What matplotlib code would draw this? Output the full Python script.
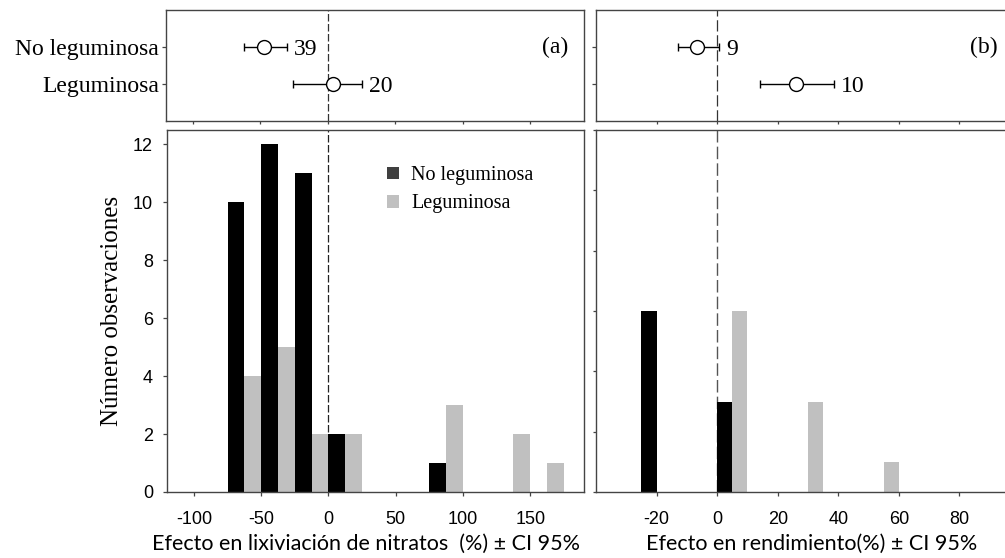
import matplotlib.pyplot as plt
from matplotlib.patches import Patch

plt.rcParams['axes.unicode_minus'] = False

# histogram classes (left edge of each 25 % class)
bins_nit = [-75, -50, -25, 0, 25, 50, 75, 100, 125, 150]
nit_no_leg = [10, 12, 11, 2, 0, 0, 1, 0, 0, 0]
nit_leg = [4, 5, 2, 2, 0, 0, 3, 0, 2, 1]

bins_rend = [-25, 0, 25, 50, 75]
rend_no_leg = [6, 3, 0, 0, 0]
rend_leg = [0, 6, 3, 1, 0]

# mean effect with 95% CI and number of observations
grupos = ['Leguminosa', 'No leguminosa']
fila = [1, 2]
nit_media = [3.7, -47]
nit_lo = [-26, -62]
nit_hi = [25.6, -30.5]
nit_n = [20, 39]
rend_media = [25.9, -6.6]
rend_lo = [14.3, -13]
rend_hi = [38.5, 0.7]
rend_n = [10, 9]

NEGRO = '#000000'
GRIS = '#c0c0c0'
EJE = '#444444'
SERIF = 'Liberation Serif'
SANS = 'Liberation Sans'

W, H = 1005, 558
fig = plt.figure(figsize=(W / 100, H / 100), dpi=100)


def caja(x0, x1, y0, y1):
    return fig.add_axes([x0 / W, 1 - y1 / H, (x1 - x0) / W, (y1 - y0) / H])


ax_a_top = caja(166, 584, 10, 121)
ax_a = caja(167, 584, 130, 492)
ax_b_top = caja(596, 1020, 10, 121)
ax_b = caja(596, 1020, 130, 492)

for ax in (ax_a_top, ax_a, ax_b_top, ax_b):
    for s in ax.spines.values():
        s.set_color(EJE)
        s.set_linewidth(1.0)
    ax.tick_params(colors=EJE, width=0.9, labelcolor='black')

# --- histograms
ax_a.bar(bins_nit, nit_no_leg, width=12.5, align='edge', color=NEGRO, zorder=2)
ax_a.bar([b + 12.5 for b in bins_nit], nit_leg, width=12.5, align='edge', color=GRIS, zorder=2)
ax_a.axvline(0, color='#222222', lw=0.9, dashes=(6, 2), zorder=1)
ax_a.set_xlim(-120, 190)
ax_a.set_ylim(0, 12.5)
ax_a.set_xticks([-100, -50, 0, 50, 100, 150])
ax_a.set_yticks([0, 2, 4, 6, 8, 10, 12])
ax_a.tick_params(axis='x', length=3, pad=11, labelsize=13)
ax_a.tick_params(axis='y', length=3, pad=7, labelsize=13)
for t in ax_a.get_xticklabels() + ax_a.get_yticklabels():
    t.set_fontfamily(SANS)
ax_a.set_ylabel('Número observaciones', fontfamily=SERIF, fontsize=18, labelpad=7)

ax_a.legend(handles=[Patch(facecolor='#404040', label='No leguminosa'),
                     Patch(facecolor=GRIS, label='Leguminosa')],
            loc='upper left', bbox_to_anchor=(0.528, 0.90), frameon=False,
            borderpad=0, borderaxespad=0, handlelength=0.6, handleheight=0.6,
            handletextpad=0.6, labelspacing=0.45,
            prop={'family': SERIF, 'size': 14.5})

ax_b.bar(bins_rend, rend_no_leg, width=5, align='edge', color=NEGRO, zorder=2)
ax_b.bar([b + 5 for b in bins_rend], rend_leg, width=5, align='edge', color=GRIS, zorder=2)
ax_b.axvline(0, color='#555555', lw=1.0, dashes=(9, 3), zorder=1)
ax_b.set_xlim(-40, 100)
ax_b.set_ylim(0, 12)
ax_b.set_xticks([-20, 0, 20, 40, 60, 80])
ax_b.set_yticks([0, 2, 4, 6, 8, 10, 12])
ax_b.set_yticklabels([])
ax_b.tick_params(axis='x', length=3, pad=11, labelsize=13)
ax_b.tick_params(axis='y', length=2.5)
for t in ax_b.get_xticklabels():
    t.set_fontfamily(SANS)

# --- mean effect panels
def efecto(ax, media, lo, hi, n, xlim, ticks, dashes, etiqueta, pos_etiq):
    err = [[m - l for m, l in zip(media, lo)], [h - m for m, h in zip(media, hi)]]
    ax.axvline(0, color='#333333', lw=0.9, dashes=dashes, zorder=1)
    ax.errorbar(media, fila, xerr=err, fmt='o', color='black', ecolor='black',
                elinewidth=1.0, capsize=3, capthick=1.0, ms=10,
                mfc='white', mec='black', mew=1.0, zorder=3)
    for h, y, k in zip(hi, fila, n):
        ax.annotate(str(k), xy=(h, y), xytext=(5, -1.5), textcoords='offset points',
                    va='center', ha='left', fontfamily=SERIF, fontsize=17)
    ax.set_xlim(*xlim)
    ax.set_ylim(0, 3)
    ax.set_xticks(ticks)
    ax.set_xticklabels([])
    ax.set_yticks(fila)
    ax.tick_params(axis='x', length=2.5)
    ax.tick_params(axis='y', length=3, pad=2)
    ax.text(pos_etiq, 0.66, etiqueta, transform=ax.transAxes, ha='center', va='center',
            fontfamily=SERIF, fontsize=17)


efecto(ax_a_top, nit_media, nit_lo, nit_hi, nit_n, (-120, 190),
       [-100, -50, 0, 50, 100, 150], (6, 2), '(a)', 0.93)
ax_a_top.set_yticklabels(grupos, fontfamily=SERIF, fontsize=17)
efecto(ax_b_top, rend_media, rend_lo, rend_hi, rend_n, (-40, 100),
       [-20, 0, 20, 40, 60, 80], (9, 3), '(b)', 0.915)
ax_b_top.set_yticklabels([])

fig.text(365.5 / W, 1 - 550 / H, 'Efecto en lixiviación de nitratos  (%) ± CI 95%',
         ha='center', va='baseline', fontfamily='Lato', fontsize=15.5)
fig.text(811.7 / W, 1 - 550 / H, 'Efecto en rendimiento(%) ± CI 95%',
         ha='center', va='baseline', fontfamily='Lato', fontsize=15.5)

fig.savefig('out.png', dpi=100)
